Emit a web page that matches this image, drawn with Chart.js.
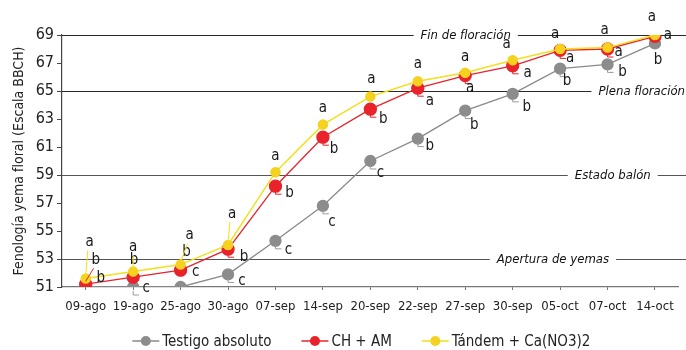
<!DOCTYPE html>
<html lang="es">
<head>
<meta charset="UTF-8">
<title>Fenología yema floral</title>
<script src="https://cdn.jsdelivr.net/npm/chart.js"></script>
<style>
  html, body { margin: 0; padding: 0; background: #fff; }
  #wrap { width: 686px; height: 350px; }
</style>
</head>
<body>
<div id="wrap"><canvas id="fenoChart" width="686" height="350"></canvas></div>
<script>
// --- data ---
var fechas = ['09-ago', '19-ago', '25-ago', '30-ago', '07-sep', '14-sep', '20-sep',
              '22-sep', '27-sep', '30-sep', '05-oct', '07-oct', '14-oct'];

var testigo = [51.0, 51.0, 51.0, 51.9, 54.3, 56.8, 60.0, 61.6, 63.6, 64.8, 66.6, 66.9, 68.4];
var chAm    = [51.2, 51.7, 52.2, 53.7, 58.2, 61.7, 63.7, 65.2, 66.1, 66.8, 67.9, 68.0, 68.9];
var tandem  = [51.6, 52.1, 52.6, 54.0, 59.2, 62.6, 64.6, 65.7, 66.3, 67.2, 68.0, 68.1, 69.0];

// letras de significancia
var letrasTestigo = ['b', 'c', 'c', 'c', 'c', 'c', 'c', 'b', 'b', 'b', 'b', 'b', 'b'];
var letrasChAm    = ['b', 'b', 'b', 'b', 'b', 'b', 'b', 'a', 'a', 'a', 'a', 'a', 'a'];
var letrasTandem  = ['a', 'a', 'a', 'a', 'a', 'a', 'a', 'a', 'a', 'a', 'a', 'a', 'a'];

// estados fenológicos de referencia
var estadosValor = [69, 65, 59, 53];
var estadosNombre = ['Fin de floración', 'Plena floración', 'Estado balón', 'Apertura de yemas'];

var yTicks = [51, 53, 55, 57, 59, 61, 63, 65, 67, 69];

// --- label placement (offset from point, px) ---
var offTestigo = [[15,-9],[13,1],[15,-15],[14,7],[13,9],[9,16],[10,12],[12,8],[9,15],[14,13],[7,13],[15,8],[3,17]];
var offChAm    = [[10,-24],[1,-17],[6,-18],[16,8],[14,7],[11,12],[13,10],[12,13],[5,13],[15,7],[10,8],[11,3],[13,-1]];
var offTandem  = [[4,-36],[0,-24],[9,-29],[4,-31],[0,-16],[0,-16],[1,-17],[0,-17],[0,-16],[-6,-16],[-5,-15],[-3,-17],[-3,-18]];
// [fraction of plot width, align]
var estadosPos = [[0.648, 'center'], [1.0, 'right'], [0.884, 'center'], [0.788, 'center']];

var FONT = "'Liberation Sans Narrow', 'DejaVu Sans Condensed', sans-serif";
var GRAY = '#8c8c8c', RED = '#e8232b', YELLOW = '#f1e01c', YELLOW_PT = '#f4d21f';

var estadosPlugin = {
    id: 'estados',
    beforeDatasetsDraw: function(chart) {
        var ctx = chart.ctx, a = chart.chartArea, y = chart.scales.y;
        ctx.save();
        ctx.font = 'italic 13px ' + FONT;
        ctx.textBaseline = 'middle';
        estadosValor.forEach(function(v, i) {
            var py = Math.round(y.getPixelForValue(v)) + 0.5;
            ctx.strokeStyle = (v >= 65) ? '#2a2a2a' : '#555';
            ctx.lineWidth = 1.2;
            ctx.beginPath(); ctx.moveTo(a.left, py); ctx.lineTo(chart.width, py); ctx.stroke();
            var w = ctx.measureText(estadosNombre[i]).width;
            var cx = a.left + estadosPos[i][0] * (chart.width - 1 - a.left);
            if (estadosPos[i][1] === 'right') cx -= w / 2;
            ctx.fillStyle = '#fff';
            ctx.fillRect(cx - w / 2 - 7, py - 8, w + 14, 16);
            ctx.fillStyle = '#111';
            ctx.textAlign = 'center';
            ctx.fillText(estadosNombre[i], cx, py);
        });
        ctx.restore();
    }
};

var letrasPlugin = {
    id: 'letras',
    afterDatasetsDraw: function(chart) {
        var ctx = chart.ctx;
        var sets = [
            { letras: letrasTestigo, off: offTestigo, color: '#9a9a9a' },
            { letras: letrasChAm, off: offChAm, color: RED },
            { letras: letrasTandem, off: offTandem, color: YELLOW }
        ];
        ctx.save();
        ctx.font = '15px ' + FONT;
        ctx.textAlign = 'center';
        ctx.textBaseline = 'middle';
        sets.forEach(function(s, di) {
            var meta = chart.getDatasetMeta(di);
            meta.data.forEach(function(pt, i) {
                var dx = s.off[i][0], dy = s.off[i][1];
                var tx = pt.x + dx, ty = pt.y + dy;
                ctx.strokeStyle = s.color;
                ctx.lineWidth = 1;
                ctx.beginPath();
                if (dy < -20) {
                    ctx.moveTo(pt.x, pt.y - 3);
                    ctx.lineTo(tx - (dx > 0 ? 2 : 0), ty + 8);
                    ctx.stroke();
                } else if (di < 2 && dy > 0 && dx > 4) {
                    ctx.moveTo(pt.x, pt.y + 4);
                    ctx.lineTo(pt.x, pt.y + 8);
                    ctx.lineTo(pt.x + 6, pt.y + 8);
                    ctx.stroke();
                }
                ctx.fillStyle = '#1a1a1a';
                ctx.fillText(s.letras[i], tx, ty);
            });
        });
        ctx.restore();
    }
};

// legend: line with a dot, drawn under the x axis
var leyendaPlugin = {
    id: 'leyenda',
    afterDraw: function(chart) {
        var ctx = chart.ctx, a = chart.chartArea;
        var ds = chart.data.datasets;
        var symW = 27, gapTxt = 3, gapItem = 30, ly = 341;
        ctx.save();
        ctx.font = '15px ' + FONT;
        ctx.textBaseline = 'middle';
        ctx.textAlign = 'left';
        var widths = ds.map(function(d) { return ctx.measureText(d.label).width; });
        var total = widths.reduce(function(s, w) { return s + symW + gapTxt + w; }, 0) + gapItem * (ds.length - 1);
        var x = (a.left + a.right) / 2 - 9 - total / 2;
        ds.forEach(function(d, i) {
            ctx.strokeStyle = d.borderColor;
            ctx.lineWidth = 1.5;
            ctx.beginPath(); ctx.moveTo(x, ly); ctx.lineTo(x + symW, ly); ctx.stroke();
            ctx.fillStyle = d.pointBackgroundColor;
            ctx.beginPath(); ctx.arc(x + symW / 2, ly, 5, 0, Math.PI * 2); ctx.fill();
            ctx.fillStyle = '#222';
            ctx.fillText(d.label, x + symW + gapTxt, ly + 1);
            x += symW + gapTxt + widths[i] + gapItem;
        });
        ctx.restore();
    }
};

var chartData = {
    labels: fechas,
    datasets: [
        {
            label: 'Testigo absoluto',
            data: testigo,
            borderColor: '#8a8a8a',
            backgroundColor: GRAY,
            pointBackgroundColor: GRAY,
            pointBorderColor: GRAY,
            pointRadius: 5.5,
            borderWidth: 1.3,
            order: 3
        },
        {
            label: 'CH + AM',
            data: chAm,
            borderColor: RED,
            backgroundColor: RED,
            pointBackgroundColor: RED,
            pointBorderColor: RED,
            pointRadius: 6,
            borderWidth: 1.3,
            order: 2
        },
        {
            label: 'Tándem + Ca(NO3)2',
            data: tandem,
            borderColor: YELLOW,
            backgroundColor: YELLOW_PT,
            pointBackgroundColor: YELLOW_PT,
            pointBorderColor: YELLOW_PT,
            pointRadius: 4.5,
            borderWidth: 1.5,
            order: 1
        }
    ]
};

var ctx = document.getElementById('fenoChart');
var fenoChart = new Chart(ctx, {
    type: 'line',
    data: chartData,
    plugins: [estadosPlugin, letrasPlugin, leyendaPlugin],
    options: {
        responsive: false,
        animation: false,
        devicePixelRatio: 1,
        layout: { padding: { top: 35, right: 2, left: 0, bottom: 31 } },
        scales: {
            x: {
                offset: true,
                grid: { drawOnChartArea: false, drawTicks: true, tickLength: 3, color: '#777' },
                border: { color: '#777', width: 1.2 },
                ticks: { color: '#222', font: { family: FONT, size: 13 }, padding: 9, maxRotation: 0, autoSkip: false },
                afterFit: function(s) { s.height = 32; }
            },
            y: {
                min: 51,
                max: 69,
                afterBuildTicks: function(s) { s.ticks = yTicks.map(function(v) { return { value: v }; }); },
                grid: { drawOnChartArea: false, drawTicks: true, tickLength: 5, color: '#444' },
                border: { color: '#444', width: 1.2 },
                ticks: { color: '#222', font: { family: FONT, size: 16 }, padding: 3 },
                title: {
                    display: true,
                    text: 'Fenología yema floral (Escala BBCH)',
                    color: '#222',
                    font: { family: FONT, size: 14 },
                    padding: { top: 11, bottom: 2 }
                },
                afterFit: function(s) { s.width = 62; }
            }
        },
        plugins: {
            legend: { display: false },
            tooltip: { enabled: false }
        }
    }
});
</script>
</body>
</html>
